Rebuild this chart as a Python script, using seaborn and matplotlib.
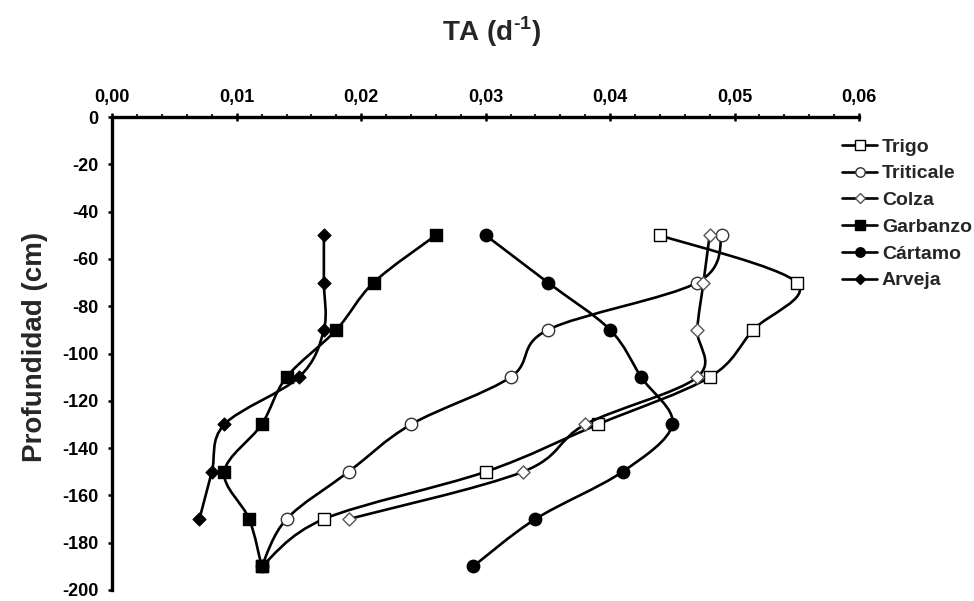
import numpy as np
import pandas as pd
import matplotlib
matplotlib.use("Agg")
import matplotlib.pyplot as plt
import seaborn as sns
from matplotlib.path import Path
from matplotlib.patches import PathPatch
from matplotlib.lines import Line2D
from matplotlib.ticker import MultipleLocator, FuncFormatter

# depth (cm) of each reading
depth = [-50, -70, -90, -110, -130, -150, -170, -190]

# TA (d-1) per crop
trigo = [0.044, 0.055, 0.0515, 0.048, 0.039, 0.030, 0.017, 0.012]
triticale = [0.049, 0.047, 0.035, 0.032, 0.024, 0.019, 0.014, 0.012]
colza = [0.048, 0.0475, 0.047, 0.047, 0.038, 0.033, 0.019]
garbanzo = [0.026, 0.021, 0.018, 0.014, 0.012, 0.009, 0.011, 0.012]
cartamo = [0.030, 0.035, 0.040, 0.0425, 0.045, 0.041, 0.034, 0.029]
arveja = [0.017, 0.017, 0.017, 0.015, 0.009, 0.008, 0.007]

crops = ["Trigo", "Triticale", "Colza", "Garbanzo", "Cártamo", "Arveja"]
values = [trigo, triticale, colza, garbanzo, cartamo, arveja]

rows = []
for crop, vals in zip(crops, values):
    for d, v in zip(depth, vals):
        rows.append({"Cultivo": crop, "TA": v, "Profundidad": d})
df = pd.DataFrame(rows)

# marker, face, edge, size (scatter s)
styles = {
    "Trigo": ("s", "white", "black", 78),
    "Triticale": ("o", "white", "#333333", 80),
    "Colza": ("D", "white", "#555555", 44),
    "Garbanzo": ("s", "black", "black", 78),
    "Cártamo": ("o", "black", "black", 80),
    "Arveja": ("D", "black", "black", 42),
}

sns.set_theme(style="white")
plt.rcParams['font.family'] = ['Liberation Sans', 'DejaVu Sans']
plt.rcParams['axes.unicode_minus'] = False
plt.rcParams['mathtext.fontset'] = 'custom'
plt.rcParams['mathtext.rm'] = 'Liberation Sans:bold'
plt.rcParams['mathtext.bf'] = 'Liberation Sans:bold'


def smooth_path(xs, ys):
    # Excel-like smoothed line: Catmull-Rom as cubic Bezier segments
    p = np.column_stack([xs, ys])
    pp = np.vstack([p[0], p, p[-1]])
    verts = [p[0]]
    codes = [Path.MOVETO]
    for i in range(len(p) - 1):
        c1 = pp[i + 1] + (pp[i + 2] - pp[i]) / 6.0
        c2 = pp[i + 2] - (pp[i + 3] - pp[i + 1]) / 6.0
        verts += [c1, c2, p[i + 1]]
        codes += [Path.CURVE4] * 3
    return Path(verts, codes)


fig = plt.figure(figsize=(9.74, 6.01), dpi=100)
ax = fig.add_axes([112.3 / 974, 1 - 590 / 601, (859 - 112.3) / 974, (590 - 117) / 601])

for i, crop in enumerate(crops):
    sub = df[df["Cultivo"] == crop]
    m, face, edge, s = styles[crop]
    patch = PathPatch(smooth_path(sub["TA"].values, sub["Profundidad"].values),
                      fill=False, edgecolor="black", linewidth=1.9, zorder=2 + 2 * i,
                      capstyle="round", joinstyle="round")
    ax.add_patch(patch)
    sns.scatterplot(data=sub, x="TA", y="Profundidad", marker=m, s=s, color=face,
                    edgecolor=edge, linewidth=1.0, ax=ax, zorder=3 + 2 * i, legend=False)

ax.set_xlim(0, 0.06)
ax.set_ylim(-200, 0)
ax.set_xlabel("")
ax.set_ylabel("")

for side in ["right", "bottom"]:
    ax.spines[side].set_visible(False)
for side in ["left", "top"]:
    ax.spines[side].set_linewidth(2.4)
    ax.spines[side].set_color("black")

ax.xaxis.tick_top()
ax.xaxis.set_major_locator(MultipleLocator(0.01))
ax.xaxis.set_minor_locator(MultipleLocator(0.002))
ax.xaxis.set_major_formatter(FuncFormatter(lambda v, pos: f"{v:.2f}".replace(".", ",")))
ax.yaxis.set_major_locator(MultipleLocator(20))
ax.yaxis.set_major_formatter(FuncFormatter(lambda v, pos: f"{int(round(v))}"))

ax.tick_params(axis="x", which="major", direction="inout", length=5.8, width=1.8,
               top=True, bottom=False, labeltop=True, labelbottom=False, pad=5,
               labelsize=13, colors="black")
ax.tick_params(axis="x", which="minor", direction="out", length=2.2, width=1.5,
               top=True, bottom=False)
ax.tick_params(axis="y", which="major", direction="out", length=2.9, width=1.8,
               left=True, pad=7, labelsize=13, colors="black")
for lab in ax.get_xticklabels() + ax.get_yticklabels():
    lab.set_fontweight("bold")

fig.text(491.7 / 974, 1 - 40.7 / 601, "TA (d$^{\\mathbf{\u20101}}$)", ha="center",
         va="baseline", fontsize=20, fontweight="bold")
fig.text(35 / 974, 1 - 346.7 / 601, "Profundidad (cm)", rotation=90, ha="center",
         va="center", fontsize=20, fontweight="bold")

handles = []
for crop in crops:
    m, face, edge, s = styles[crop]
    ms = 6.8 if m != "D" else 5.4
    handles.append(Line2D([], [], color="black", linewidth=1.9, marker=m, markersize=ms,
                          markerfacecolor=face, markeredgecolor=edge, markeredgewidth=1.0))
leg = ax.legend(handles, crops, loc="upper left", bbox_to_anchor=(842 / 974, 1 - 138 / 601),
                bbox_transform=fig.transFigure, frameon=False, borderpad=0,
                borderaxespad=0, handlelength=1.8, handletextpad=0.25,
                labelspacing=0.47, prop={"size": 14, "weight": "bold"})

fig.savefig("out.png", dpi=100, facecolor="white")
